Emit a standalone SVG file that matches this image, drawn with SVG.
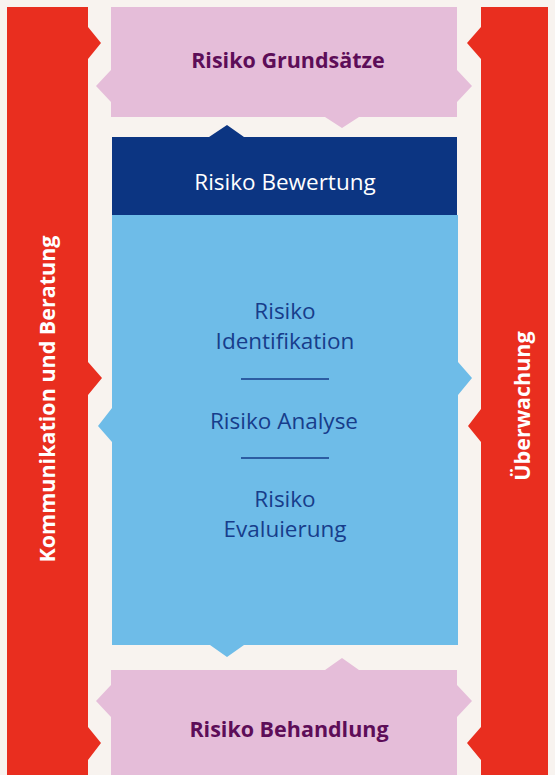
<svg xmlns="http://www.w3.org/2000/svg" width="555" height="775" viewBox="0 0 555 775">
<style>
.red{fill:#e92e1f}
.pink{fill:#e5bdd9}
.dark{fill:#0c3582}
.light{fill:#6ebce8}
.t{font-family:"Open Sans","Noto Sans","DejaVu Sans",sans-serif;text-anchor:middle}
.hp{font-size:21.5px;font-weight:700;fill:#5d0d58}
.hw{font-size:21.5px;font-weight:700;fill:#ffffff}
.w{font-size:22.5px;font-weight:500;fill:#ffffff}
.b{font-size:22.5px;font-weight:500;fill:#173d8b}
.sep{stroke:#173d8b;stroke-width:1.5}
</style>
<rect x="0" y="0" width="555" height="775" fill="#f8f3ef"/>
<g id="kommunikation">
<polygon class="red" points="7,7 88,7 88,27 101,43 88,59 88,362 102,378 88,395 88,727 101,743 88,760 88,775 7,775"/>
<text class="t hw" transform="translate(55,399) rotate(-90)">Kommunikation und Beratung</text>
</g>
<g id="ueberwachung">
<polygon class="red" points="481,7 548,7 548,775 481,775 481,760 467,743 481,727 481,442 468,426 481,409 481,59 467,43 481,27"/>
<text class="t hw" transform="translate(530,406) rotate(-90)">Überwachung</text>
</g>
<g id="grundsaetze">
<polygon class="pink" points="111,7 457,7 457,70 472,86 457,102 457,117 359,117 342,128 325,117 111,117 111,102 96,86 111,70"/>
<text class="t hp" x="288" y="68">Risiko Grundsätze</text>
</g>
<g id="bewertung">
<polygon class="dark" points="112,137 209,137 227,125 244,137 457,137 457,215 112,215"/>
<text class="t w" x="285" y="190">Risiko Bewertung</text>
</g>
<g id="prozess">
<polygon class="light" points="112,215 458,215 458,362 472,378 458,395 458,645 244,645 227,657 210,645 112,645 112,442 98,426 112,408"/>
<text class="t b" x="285" y="319">Risiko</text>
<text class="t b" x="285" y="349">Identifikation</text>
<line class="sep" x1="241" y1="379" x2="329" y2="379"/>
<text class="t b" x="284" y="429">Risiko Analyse</text>
<line class="sep" x1="241" y1="458" x2="329" y2="458"/>
<text class="t b" x="285" y="507">Risiko</text>
<text class="t b" x="285" y="537">Evaluierung</text>
</g>
<g id="behandlung">
<polygon class="pink" points="111,670 325,670 342,658 359,670 457,670 457,685 472,701 457,717 457,775 111,775 111,717 96,701 111,685"/>
<text class="t hp" x="289" y="737">Risiko Behandlung</text>
</g>
<g id="connectors"></g>
</svg>
